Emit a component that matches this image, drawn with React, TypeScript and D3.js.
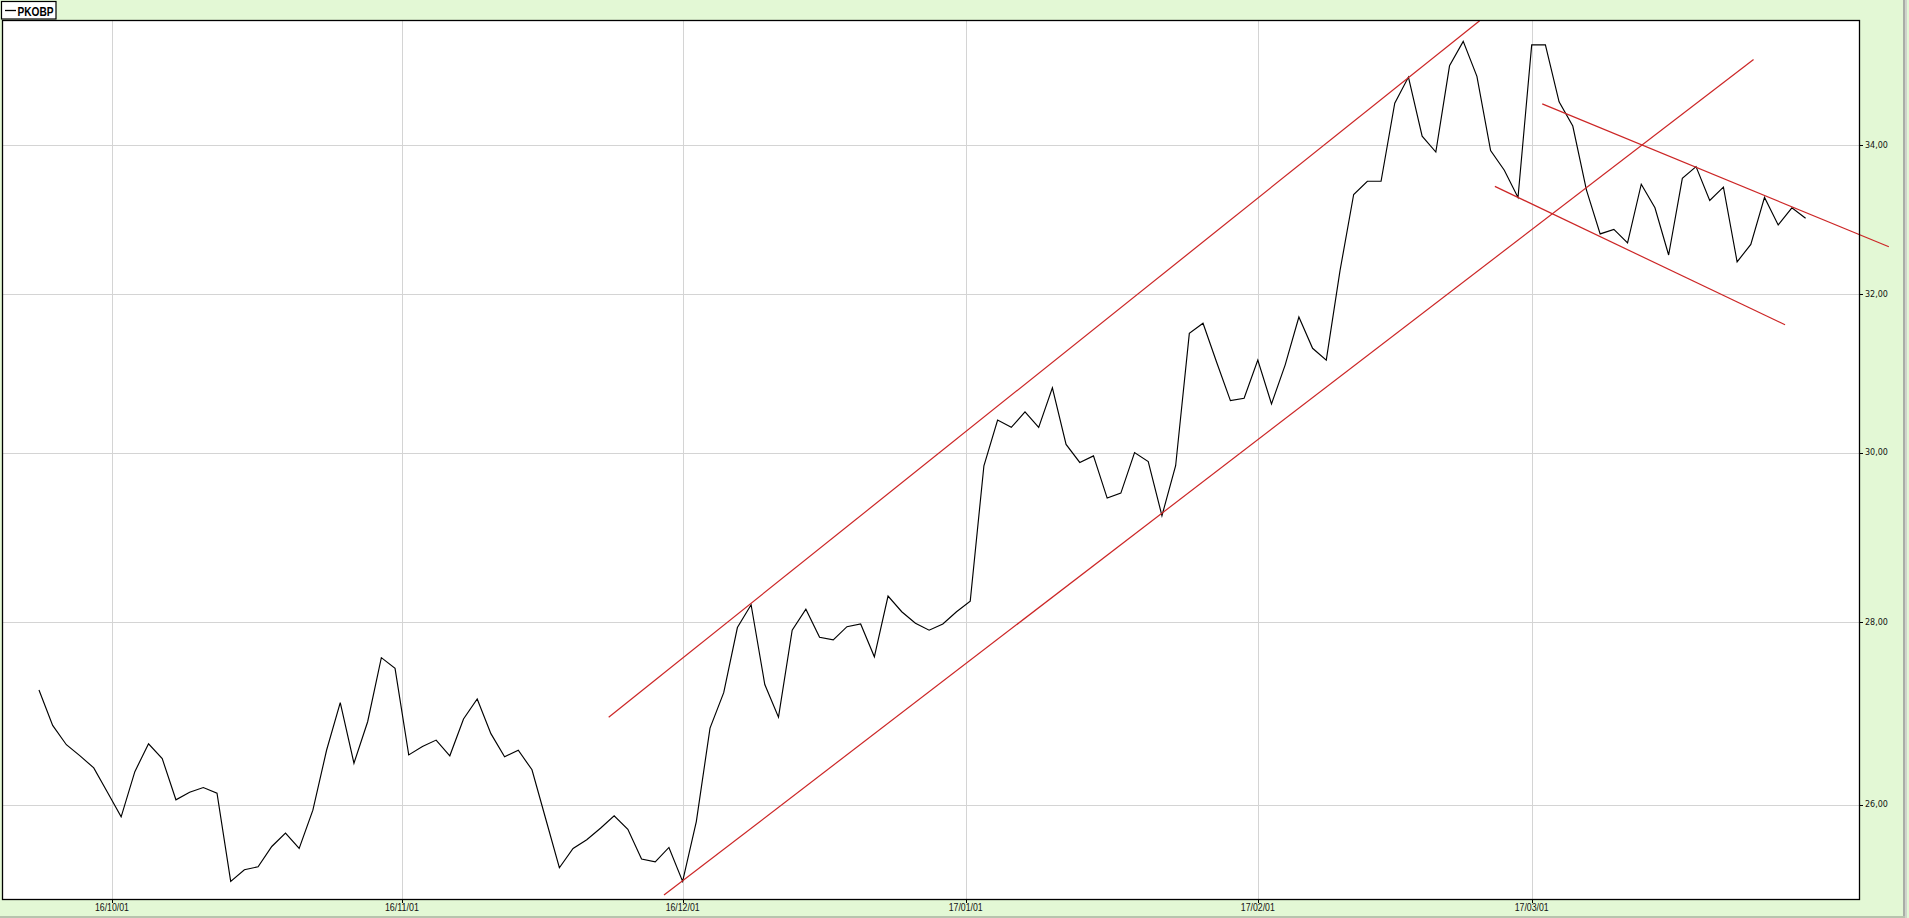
import React from "react";
import * as d3 from "d3";

// ---- data (trading-day index based) ----
const seriesName = "PKOBP";
const prices: number[] = [
  27.24, 26.85, 26.64, 26.52, 26.39, 26.13, 25.87, 26.35, 26.65, 26.49,
  26.05, 26.13, 26.18, 26.12, 25.20, 25.32, 25.35, 25.56, 25.70, 25.54,
  25.94, 26.58, 27.10, 26.44, 26.89, 27.60, 27.48, 26.53, 26.62, 26.69,
  26.52, 26.92, 27.14, 26.76, 26.51, 26.58, 26.37, 25.85, 25.34, 25.54,
  25.63, 25.75, 25.88, 25.74, 25.43, 25.40, 25.55, 25.20, 25.82, 26.82,
  27.21, 27.94, 28.20, 27.30, 26.94, 27.91, 28.15, 27.83, 27.80, 27.95,
  27.98, 27.61, 28.30, 28.12, 27.99, 27.91, 27.98, 28.12, 28.24, 29.84,
  30.40, 30.31, 30.50, 30.31, 30.80, 30.10, 29.88, 29.96, 29.45, 29.51,
  30.00, 29.89, 29.24, 29.84, 31.49, 31.62, 31.12, 30.64, 30.67, 31.15,
  30.60, 31.09, 31.70, 31.30, 31.15, 32.30, 33.32, 33.50, 33.50, 34.58,
  34.95, 34.12, 33.90, 35.11, 35.46, 34.96, 33.92, 33.65, 33.28, 35.41,
  35.41, 34.60, 34.26, 33.38, 32.79, 32.85, 32.67, 33.46, 33.14, 32.51,
  33.54, 33.70, 33.24, 33.42, 32.42, 32.65, 33.28, 32.91, 33.14, 33.00,
];

const dateTickLabels = ["16/10/01", "16/11/01", "16/12/01", "17/01/01", "17/02/01", "17/03/01"];
const dateTickIndex = [5.33, 26.5, 47, 67.67, 89, 109];

const priceTicks = [26, 28, 30, 32, 34];

// trend lines: [index, price] endpoints
const trendUpper: [number, number][] = [[41.6, 26.94], [105.2, 35.76]];
const trendLower: [number, number][] = [[45.64, 25.06], [125.2, 35.2]];
const trendDownUpper: [number, number][] = [[109.77, 34.57], [135.08, 32.62]];
const trendDownLower: [number, number][] = [[106.31, 33.43], [127.5, 31.6]];
const trendLines = [trendUpper, trendLower, trendDownUpper, trendDownLower];

// ---- layout ----
const W = 1909;
const H = 918;
const plot = { left: 2, top: 20, right: 1859, bottom: 899 };
const BG = "#e3f8d5";
const GRID = "#d4d4d4";
const RED = "#cc2626";

export default function App() {
  const x = d3.scaleLinear().domain([-2.7, 132.9]).range([plot.left, plot.right]);
  const y = d3.scaleLog().domain([25.02, 35.77]).range([plot.bottom, plot.top]);

  const line = d3
    .line<number>()
    .x((_, i) => x(i))
    .y((d) => y(d));
  const tline = d3
    .line<[number, number]>()
    .x((d) => x(d[0]))
    .y((d) => y(d[1]));

  const fmt = (v: number) => d3.format(".2f")(v).replace(".", ",");

  return (
    <svg
      width={W}
      height={H}
      style={{ position: "absolute", left: 0, top: 0, display: "block" }}
    >
      <rect x={0} y={0} width={W} height={H} fill={BG} />
      {/* outer frame bevel */}
      <rect x={1903} y={0} width={2} height={H} fill="#a9aea6" />
      <rect x={1905} y={0} width={2} height={H} fill="#cfd4cc" />
      <rect x={0} y={916} width={1905} height={2} fill="#b7c4ae" />

      {/* plot area */}
      <rect
        x={plot.left}
        y={plot.top}
        width={plot.right - plot.left}
        height={plot.bottom - plot.top}
        fill="#ffffff"
      />
      {/* grid */}
      {priceTicks.map((t) => (
        <line
          key={"hg" + t}
          x1={plot.left}
          x2={plot.right}
          y1={Math.round(y(t)) + 0.5}
          y2={Math.round(y(t)) + 0.5}
          stroke={GRID}
          strokeWidth={1}
        />
      ))}
      {dateTickIndex.map((t, i) => (
        <line
          key={"vg" + i}
          x1={Math.round(x(t)) + 0.5}
          x2={Math.round(x(t)) + 0.5}
          y1={plot.top}
          y2={plot.bottom}
          stroke={GRID}
          strokeWidth={1}
        />
      ))}

      {/* price line */}
      <path d={line(prices) || ""} fill="none" stroke="#000" strokeWidth={1.15} />

      {/* trend lines */}
      {trendLines.map((t, i) => (
        <path key={"tr" + i} d={tline(t) || ""} fill="none" stroke={RED} strokeWidth={1.2} />
      ))}

      {/* plot border */}
      <rect
        x={plot.left + 0.5}
        y={plot.top + 0.5}
        width={plot.right - plot.left}
        height={plot.bottom - plot.top}
        fill="none"
        stroke="#000"
        strokeWidth={1.3}
      />

      {/* y axis (right) */}
      {priceTicks.map((t) => (
        <g key={"yt" + t}>
          <line
            x1={plot.right}
            x2={plot.right + 4}
            y1={Math.round(y(t)) + 0.5}
            y2={Math.round(y(t)) + 0.5}
            stroke="#000"
          />
          <text
            x={plot.right + 6}
            y={y(t)}
            dy="0.35em"
            fontFamily="DejaVu Sans, Verdana, sans-serif"
            fontSize={8}
            fill="#111"
          >
            {fmt(t)}
          </text>
        </g>
      ))}

      {/* x axis (bottom) */}
      {dateTickIndex.map((t, i) => (
        <g key={"xt" + i}>
          <line
            x1={Math.round(x(t)) + 0.5}
            x2={Math.round(x(t)) + 0.5}
            y1={plot.bottom}
            y2={plot.bottom + 4}
            stroke="#000"
          />
          <text
            x={x(t)}
            y={911}
            textAnchor="middle"
            fontFamily="Liberation Sans Narrow, Arial Narrow, Liberation Sans, sans-serif"
            fontSize={11.5}
            textLength={34}
            lengthAdjust="spacingAndGlyphs"
            fill="#111"
          >
            {dateTickLabels[i]}
          </text>
        </g>
      ))}

      {/* legend */}
      <rect x={1.5} y={1.5} width={54.5} height={17.5} fill="#fff" stroke="#000" strokeWidth={1.2} />
      <line x1={5} x2={16} y1={10.5} y2={10.5} stroke="#000" strokeWidth={1.3} />
      <text
        x={17.5}
        y={15.5}
        fontFamily="Liberation Sans, Arial, sans-serif"
        fontWeight="bold"
        fontSize={12}
        textLength={36}
        lengthAdjust="spacingAndGlyphs"
        fill="#000"
      >
        {seriesName}
      </text>
    </svg>
  );
}
